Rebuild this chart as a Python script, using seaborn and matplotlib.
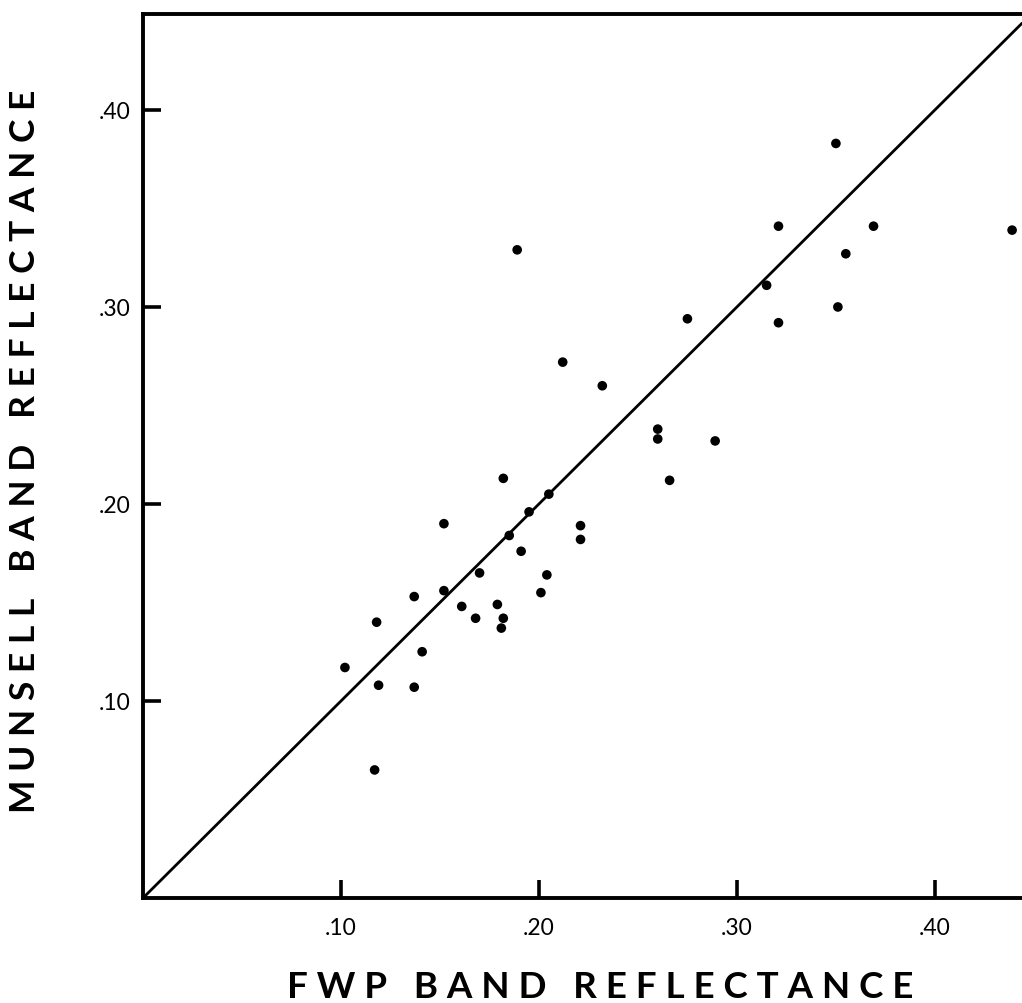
import matplotlib
matplotlib.use("Agg")
import matplotlib.pyplot as plt
import seaborn as sns
import pandas as pd

# FWP band reflectance (x) vs Munsell band reflectance (y)
fwp = [0.102, 0.118, 0.119, 0.117, 0.137, 0.137, 0.141, 0.152, 0.152, 0.161,
       0.168, 0.170, 0.179, 0.182, 0.181, 0.182, 0.185, 0.191, 0.195, 0.201,
       0.204, 0.205, 0.221, 0.221, 0.189, 0.212, 0.232, 0.260, 0.260, 0.266,
       0.275, 0.289, 0.315, 0.321, 0.321, 0.350, 0.351, 0.355, 0.369, 0.439]
munsell = [0.117, 0.140, 0.108, 0.065, 0.153, 0.107, 0.125, 0.156, 0.190, 0.148,
           0.142, 0.165, 0.149, 0.142, 0.137, 0.213, 0.184, 0.176, 0.196, 0.155,
           0.164, 0.205, 0.189, 0.182, 0.329, 0.272, 0.260, 0.238, 0.233, 0.212,
           0.294, 0.232, 0.311, 0.341, 0.292, 0.383, 0.300, 0.327, 0.341, 0.339]

tick_values = [0.10, 0.20, 0.30, 0.40]
tick_labels = [".10", ".20", ".30", ".40"]
x_label = "F W P   B A N D   R E F L E C T A N C E"
y_label = "M U N S E L L   B A N D   R E F L E C T A N C E"

sns.set_theme(style="ticks")
plt.rcParams["font.family"] = ["Lato", "DejaVu Sans"]

df = pd.DataFrame({"fwp": fwp, "munsell": munsell})

fig = plt.figure(figsize=(10.22, 10.04), dpi=100)
ax = fig.add_axes([143 / 1022, 105 / 1004, 879 / 1022, 884 / 1004])

sns.scatterplot(data=df, x="fwp", y="munsell", ax=ax, color="black",
                s=48, edgecolor="none", zorder=3)
ax.axline((0, 0), slope=1, color="black", lw=2.0, zorder=2)

ax.set_xlim(0, 0.444)
ax.set_ylim(0, 0.4487)

ax.set_xticks(tick_values, tick_labels)
ax.set_yticks(tick_values, tick_labels)

for side in ["left", "bottom", "top"]:
    ax.spines[side].set_visible(True)
    ax.spines[side].set_color("black")
    ax.spines[side].set_linewidth(2.8)
ax.spines["right"].set_visible(False)

ax.set_xlabel(x_label, fontsize=26.5, fontweight="bold", color="black")
ax.set_ylabel(y_label, fontsize=25.5, fontweight="bold", color="black")
ax.xaxis.set_label_coords(0.52, -0.082)
ax.yaxis.set_label_coords(-0.116, 0.506)

ax.tick_params(axis="both", direction="in", length=13, width=2.6,
               color="#000000", labelsize=16.5, labelcolor="black")
ax.tick_params(axis="x", pad=14)
ax.tick_params(axis="y", pad=9)

fig.savefig("out.png", dpi=100, facecolor="white")
